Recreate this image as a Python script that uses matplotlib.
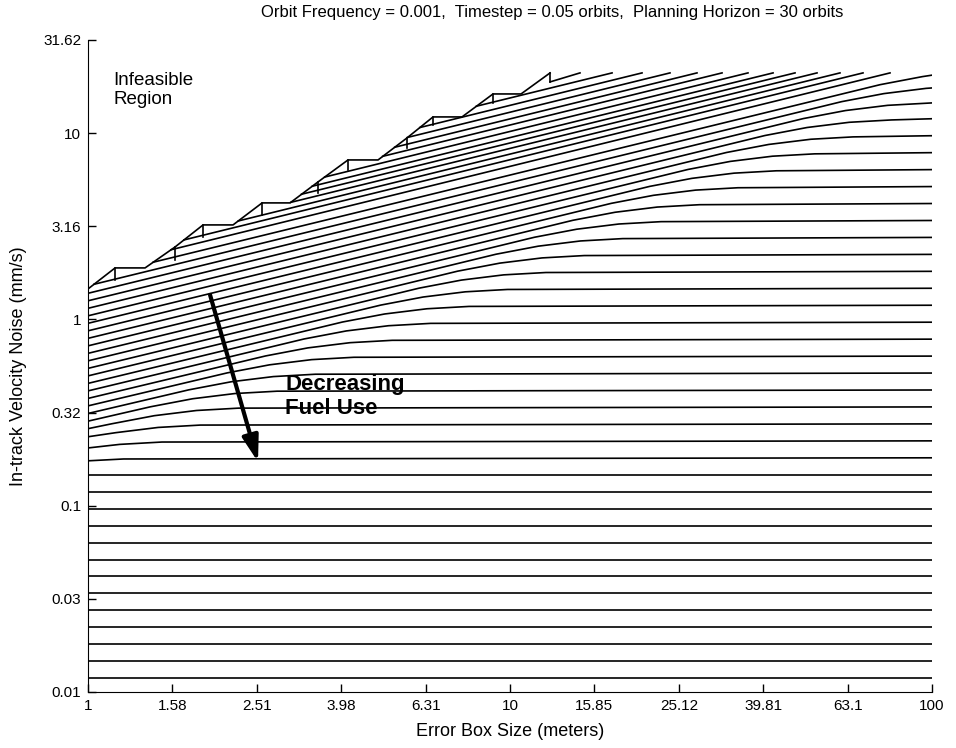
import matplotlib
matplotlib.use("Agg")
import matplotlib.pyplot as plt

plt.rcParams['font.family'] = ['Liberation Sans', 'DejaVu Sans']

# --- axes ticks
x_ticks = [1, 1.585, 2.512, 3.981, 6.310, 10, 15.85, 25.12, 39.81, 63.10, 100]
x_tick_labels = ['1', '1.58', '2.51', '3.98', '6.31', '10', '15.85', '25.12', '39.81', '63.1', '100']
y_ticks = [0.01, 0.03162, 0.1, 0.3162, 1, 3.162, 10, 31.62]
y_tick_labels = ['0.01', '0.03', '0.1', '0.32', '1', '3.16', '10', '31.62']

# --- contours that stay flat over the whole error box range (mm/s)
flat_levels = [0.1466, 0.1189, 0.0964, 0.0782, 0.0634, 0.0514,
               0.0417, 0.0338, 0.0274, 0.0222, 0.0180, 0.0146, 0.0119]

# --- bent contours (knots), bottom to top
bent_x = [
    [1, 1.2134, 100],
    [1, 1.1885, 1.4962, 100],
    [1, 1.1642, 1.4655, 1.8450, 100],
    [1, 1.1402, 1.4355, 1.8071, 2.2750, 100],
    [1, 1.4060, 1.7701, 2.2283, 2.8052, 100],
    [1, 1.7337, 2.1827, 2.7477, 3.4591, 100],
    [1, 2.1378, 2.6914, 3.3882, 4.2654, 100],
    [1, 2.6361, 3.3188, 4.1779, 5.2596, 100],
    [1, 3.2506, 4.0924, 5.1518, 6.4856, 100],
    [1, 4.0083, 5.0463, 6.3527, 7.9974, 100],
    [1, 4.9427, 6.2227, 7.8335, 9.8616, 100],
    [1, 6.0948, 7.6732, 9.6595, 12.160, 100],
    [1, 7.5155, 9.4618, 11.911, 14.995, 100],
    [1, 9.2673, 11.667, 14.687, 18.490, 100],
    [1, 11.428, 14.387, 18.112, 22.801, 100],
    [1, 14.091, 17.740, 22.333, 28.115, 100],
    [1, 17.376, 21.876, 27.539, 34.668, 100],
    [1, 21.426, 26.975, 33.958, 42.749, 100],
    [1, 26.421, 33.263, 41.873, 52.714, 100],
    [1, 32.580, 41.016, 51.634, 65.002, 100],
    [1, 40.174, 50.577, 63.670, 80.154, 100],
    [1, 49.538, 62.367, 78.512, 100],
    [1.033, 61.09, 76.91, 96.82, 100],
    [1.427, 75.33, 94.83, 100],
]
bent_y = [
    [0.1741, 0.1781, 0.1807],
    [0.2041, 0.2133, 0.2196, 0.2228],
    [0.2344, 0.2466, 0.2630, 0.2708, 0.2748],
    [0.2591, 0.2754, 0.3041, 0.3243, 0.3339, 0.3389],
    [0.2843, 0.3395, 0.3750, 0.3999, 0.4117, 0.4178],
    [0.3126, 0.4187, 0.4624, 0.4931, 0.5077, 0.5151],
    [0.3434, 0.5163, 0.5702, 0.6081, 0.6260, 0.6352],
    [0.3766, 0.6366, 0.7031, 0.7498, 0.7720, 0.7832],
    [0.4132, 0.7850, 0.8669, 0.9246, 0.9519, 0.9658],
    [0.4534, 0.9680, 1.0690, 1.1401, 1.1738, 1.191],
    [0.4975, 1.1936, 1.3182, 1.4059, 1.4474, 1.469],
    [0.5459, 1.4719, 1.6255, 1.7336, 1.7848, 1.811],
    [0.5990, 1.8150, 2.0044, 2.1377, 2.2008, 2.233],
    [0.6572, 2.2380, 2.4716, 2.6360, 2.7138, 2.754],
    [0.7211, 2.7598, 3.0478, 3.2505, 3.3465, 3.395],
    [0.7912, 3.4030, 3.7582, 4.0081, 4.1265, 4.187],
    [0.8682, 4.1963, 4.6342, 4.9424, 5.0884, 5.163],
    [0.9526, 5.1744, 5.7144, 6.0944, 6.2744, 6.366],
    [1.0452, 6.3805, 7.0464, 7.5150, 7.7369, 7.851],
    [1.1468, 7.8679, 8.6890, 9.2668, 9.5405, 9.680],
    [1.2584, 9.7019, 10.714, 11.427, 11.764, 11.94],
    [1.3807, 11.963, 13.212, 14.091, 14.52],
    [1.543, 14.75, 16.29, 17.38, 17.47],
    [2.027, 18.19, 20.09, 20.46],
]

# --- contours cut off by the infeasible region: start on the edge, end at the cap
cut_x0 = [12.44, 8.326, 6.114, 5.716, 5.331, 4.992, 3.639, 3.400, 3.206, 3.024, 2.271, 1.688, 1.573]
cut_y0 = [18.82, 13.94, 10.71, 9.478, 8.395, 7.503, 5.809, 5.185, 4.697, 4.249, 3.376, 2.670, 2.365]
cut_x1 = [14.65, 17.45, 20.55, 23.94, 27.74, 31.80, 36.64, 42.01, 47.36, 53.40, 60.53, 68.63, 79.53]
cap_y = 21.04

# --- sawtooth edge of the infeasible region
edge_x = [1, 1.159, 1.365, 1.608, 1.873, 2.206, 2.585, 3.011, 3.508, 4.131,
          4.867, 5.700, 6.570, 7.695, 9.114, 10.62, 12.44]
edge_y = [1.457, 1.889, 1.889, 2.448, 3.214, 3.214, 4.219, 4.219, 5.469, 7.175,
          7.175, 9.419, 12.21, 12.21, 16.22, 16.22, 21.03]
notch_x = [1.159, 1.608, 1.873, 2.585, 3.508, 4.131, 5.700, 6.570, 9.114, 12.44]
notch_top = [1.889, 2.448, 3.214, 4.219, 5.469, 7.175, 9.419, 12.21, 16.22, 21.03]
notch_bot = [1.628, 2.085, 2.771, 3.637, 4.772, 6.342, 8.324, 11.06, 14.51, 18.82]

fig = plt.figure(figsize=(9.56, 7.48), dpi=100)
ax = fig.add_axes([0.0921, 0.0749, 0.8828, 0.8717])
ax.set_xscale('log')
ax.set_yscale('log')

lw = 1.2
for lev in flat_levels:
    ax.plot([x_ticks[0], x_ticks[-1]], [lev, lev], color='black', lw=lw)
for xs, ys in zip(bent_x, bent_y):
    ax.plot(xs, ys, color='black', lw=lw)
for x0, y0, x1 in zip(cut_x0, cut_y0, cut_x1):
    ax.plot([x0, x1], [y0, cap_y], color='black', lw=lw)
ax.plot(edge_x, edge_y, color='black', lw=lw)
for nx, nt, nb in zip(notch_x, notch_top, notch_bot):
    ax.plot([nx, nx], [nt, nb], color='black', lw=lw)

# arrow + labels
ax.annotate('', xy=(2.528, 0.1717), xytext=(1.946, 1.353),
            arrowprops=dict(arrowstyle='-|>,head_length=0.7,head_width=0.22',
                            color='black', lw=3, mutation_scale=22,
                            shrinkA=0, shrinkB=0))
ax.text(2.93, 0.3858, 'Decreasing\nFuel Use', fontsize=16, fontweight='bold',
        ha='left', va='center', linespacing=1.2)
ax.text(1.146, 17.04, 'Infeasible\nRegion', fontsize=13.5, ha='left', va='center',
        linespacing=1.15)

ax.set_xlim(1, 100)
ax.set_ylim(0.01, 31.62)
ax.minorticks_off()
ax.set_xticks(x_ticks)
ax.set_xticklabels(x_tick_labels)
ax.set_yticks(y_ticks)
ax.set_yticklabels(y_tick_labels)
ax.tick_params(direction='in', length=6, width=1, labelsize=11, pad=5)
for side in ['top', 'right']:
    ax.spines[side].set_visible(False)

ax.set_xlabel('Error Box Size (meters)', fontsize=13)
ax.set_ylabel('In-track Velocity Noise (mm/s)', fontsize=13)
ax.xaxis.set_label_coords(0.5, -0.047)
ax.yaxis.set_label_coords(-0.072, 0.5)
fig.text(0.578, 0.983, 'Orbit Frequency = 0.001,  Timestep = 0.05 orbits,  Planning Horizon = 30 orbits',
         fontsize=12, ha='center', va='center')

fig.savefig('out.png', dpi=100)
